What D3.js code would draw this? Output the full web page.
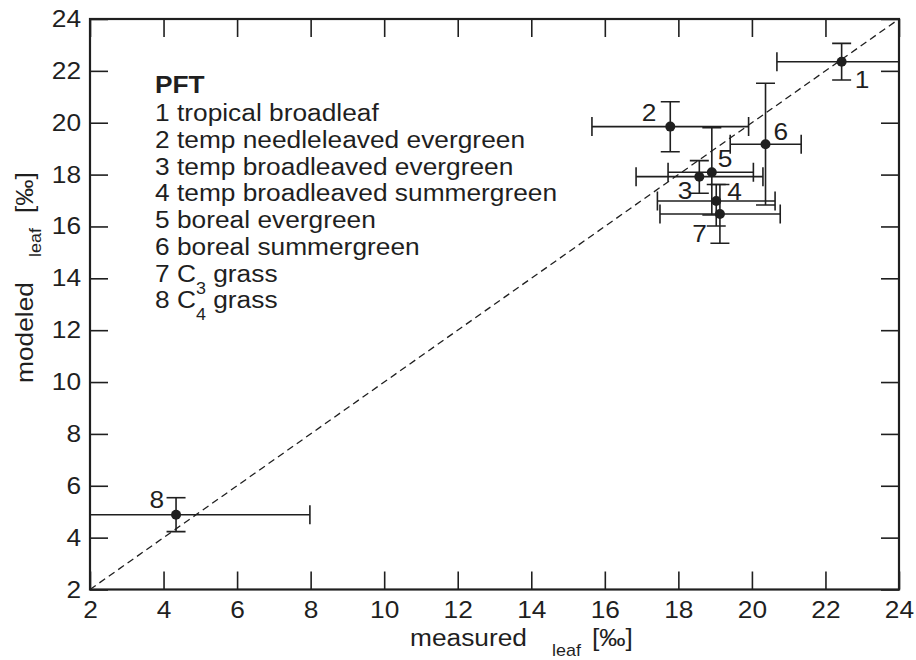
<!DOCTYPE html>
<html>
<head>
<meta charset="utf-8">
<script src="https://cdn.jsdelivr.net/npm/d3@7"></script>
<style>
  body { margin: 0; background: #fff; }
  svg { display: block; }
  text { font-family: "Liberation Sans", Arial, Helvetica, sans-serif; fill: #1f1f1f; }
</style>
</head>
<body>
<svg id="chart" width="916" height="660"></svg>
<script>
// Plant functional types and their leaf values (measured vs modeled), with ranges
const pftNumbers = [1, 2, 3, 4, 5, 6, 7, 8];
const pftNames = [
  "tropical broadleaf",
  "temp needleleaved evergreen",
  "temp broadleaved evergreen",
  "temp broadleaved summergreen",
  "boreal evergreen",
  "boreal summergreen",
  "C3 grass",
  "C4 grass"
];
const measured   = [22.44, 17.78, 18.57, 19.03, 18.91, 20.37, 19.13, 4.34];
const measuredLo = [20.68, 15.65, 16.85, 17.43, 17.72, 19.41, 17.50, 1.60];
const measuredHi = [24.30, 19.91, 20.30, 20.63, 20.04, 21.34, 20.77, 7.98];
const modeled    = [22.35, 19.85, 17.92, 16.98, 18.09, 19.17, 16.48, 4.88];
const modeledLo  = [21.65, 18.88, 17.28, 16.02, 16.44, 16.83, 15.35, 4.23];
const modeledHi  = [23.06, 20.81, 18.54, 17.62, 19.81, 21.52, 17.62, 5.54];
const tickValues = [2, 4, 6, 8, 10, 12, 14, 16, 18, 20, 22, 24];

// Where each point's number sits relative to its dot (layout only)
const labelPlacement = [
  { dx: 13, dy: 26, anchor: "start" },
  { dx: -14, dy: -6, anchor: "end" },
  { dx: -7, dy: 22, anchor: "end" },
  { dx: 11, dy: -1, anchor: "start" },
  { dx: 6, dy: -5, anchor: "start" },
  { dx: 8, dy: -4, anchor: "start" },
  { dx: -13, dy: 28, anchor: "end" },
  { dx: -12, dy: -7, anchor: "end" }
];

const points = pftNumbers.map((n, i) => ({
  n, name: pftNames[i],
  x: measured[i], xLo: measuredLo[i], xHi: measuredHi[i],
  y: modeled[i], yLo: modeledLo[i], yHi: modeledHi[i],
  lab: labelPlacement[i]
}));

const INK = "#1f1f1f";
const FS = 23.5;       // main font size
const SX = 1.12;       // horizontal stretch of the lettering
const SUB = 16;        // subscript font size

const svg = d3.select("#chart");
const plotL = 90, plotR = 899, plotT = 19, plotB = 589.5;

const x = d3.scaleLinear().domain([2, 24]).range([plotL, plotR]);
const y = d3.scaleLinear().domain([2, 24]).range([plotB, plotT]);

// text helper: places a stretched text at (px,py)
function stretchedText(parent, px, py, str, opts = {}) {
  return parent.append("text")
    .attr("transform", `translate(${px},${py}) scale(${SX},1)`)
    .attr("text-anchor", opts.anchor || "start")
    .attr("font-size", opts.size || FS)
    .attr("font-weight", opts.weight || "normal")
    .text(str);
}

// clip region for the error bars
svg.append("defs").append("clipPath").attr("id", "plotClip")
  .append("rect").attr("x", plotL).attr("y", plotT)
  .attr("width", plotR - plotL).attr("height", plotB - plotT);

// axes: ticks pointing inward on all four sides
const TL = 18;
function styleAxis(g) {
  g.select(".domain").remove();
  g.selectAll(".tick line").attr("stroke", INK).attr("stroke-width", 1.6);
}
const gx = svg.append("g").attr("transform", `translate(0,${plotB})`)
  .call(d3.axisBottom(x).tickValues(tickValues).tickSizeInner(-TL).tickSizeOuter(0).tickPadding(12))
  .call(styleAxis);
gx.selectAll(".tick text")
  .attr("font-size", FS).attr("font-family", "Liberation Sans, Arial, sans-serif")
  .attr("fill", INK).attr("transform", `scale(${SX},1)`);

const gy = svg.append("g").attr("transform", `translate(${plotL},0)`)
  .call(d3.axisLeft(y).tickValues(tickValues).tickSizeInner(-TL).tickSizeOuter(0).tickPadding(8))
  .call(styleAxis);
gy.selectAll(".tick text")
  .attr("font-size", FS).attr("font-family", "Liberation Sans, Arial, sans-serif")
  .attr("fill", INK).attr("transform", `scale(${SX},1)`);

svg.append("g").attr("transform", `translate(0,${plotT})`)
  .call(d3.axisTop(x).tickValues(tickValues).tickSizeInner(-TL).tickSizeOuter(0).tickFormat(""))
  .call(styleAxis);
svg.append("g").attr("transform", `translate(${plotR},0)`)
  .call(d3.axisRight(y).tickValues(tickValues).tickSizeInner(-TL).tickSizeOuter(0).tickFormat(""))
  .call(styleAxis);

// frame
svg.append("rect")
  .attr("x", plotL).attr("y", plotT)
  .attr("width", plotR - plotL).attr("height", plotB - plotT)
  .attr("fill", "none").attr("stroke", INK).attr("stroke-width", 2.2);

// 1:1 line
svg.append("line")
  .attr("x1", x(2)).attr("y1", y(2)).attr("x2", x(24)).attr("y2", y(24))
  .attr("stroke", INK).attr("stroke-width", 1.3).attr("stroke-dasharray", "7,4.5");

// error bars
const CAP = 9.5;
const bars = svg.append("g").attr("clip-path", "url(#plotClip)")
  .attr("stroke", INK).attr("stroke-width", 1.6).attr("fill", "none");
points.forEach(p => {
  const g = bars.append("g");
  // horizontal range
  g.append("line").attr("x1", x(p.xLo)).attr("x2", x(p.xHi)).attr("y1", y(p.y)).attr("y2", y(p.y));
  g.append("line").attr("x1", x(p.xLo)).attr("x2", x(p.xLo)).attr("y1", y(p.y) - CAP).attr("y2", y(p.y) + CAP);
  g.append("line").attr("x1", x(p.xHi)).attr("x2", x(p.xHi)).attr("y1", y(p.y) - CAP).attr("y2", y(p.y) + CAP);
  // vertical range
  g.append("line").attr("x1", x(p.x)).attr("x2", x(p.x)).attr("y1", y(p.yLo)).attr("y2", y(p.yHi));
  g.append("line").attr("x1", x(p.x) - CAP).attr("x2", x(p.x) + CAP).attr("y1", y(p.yLo)).attr("y2", y(p.yLo));
  g.append("line").attr("x1", x(p.x) - CAP).attr("x2", x(p.x) + CAP).attr("y1", y(p.yHi)).attr("y2", y(p.yHi));
});

// points
svg.append("g").selectAll("circle").data(points).join("circle")
  .attr("cx", d => x(d.x)).attr("cy", d => y(d.y)).attr("r", 5).attr("fill", INK);

// point numbers
const numG = svg.append("g");
points.forEach(p => {
  stretchedText(numG, x(p.x) + p.lab.dx, y(p.y) + p.lab.dy, String(p.n), { anchor: p.lab.anchor });
});

// legend
const legX = 155, legY0 = 121, legStep = 26.75;
stretchedText(svg, legX, 93, "PFT", { weight: "bold" });
points.forEach((p, i) => {
  const t = svg.append("text")
    .attr("transform", `translate(${legX},${legY0 + i * legStep}) scale(${SX},1)`)
    .attr("font-size", FS);
  const m = p.name.match(/^C(\d) (.*)$/);
  if (m) {
    t.append("tspan").text(`${p.n} C`);
    t.append("tspan").attr("font-size", SUB).attr("dy", 12).text(m[1]);
    t.append("tspan").attr("dy", -12).text(" " + m[2]);
  } else {
    t.text(`${p.n} ${p.name}`);
  }
});

// x-axis title
stretchedText(svg, 410, 646, "measured");
stretchedText(svg, 552, 656, "leaf", { size: SUB });
stretchedText(svg, 592, 646, "[‰]");

// y-axis title
const yt = svg.append("g").attr("transform", "translate(33,383) rotate(-90)");
stretchedText(yt, 0, 0, "modeled");
stretchedText(yt, 126, 8, "leaf", { size: SUB });
stretchedText(yt, 170, 0, "[‰]");
</script>
</body>
</html>
